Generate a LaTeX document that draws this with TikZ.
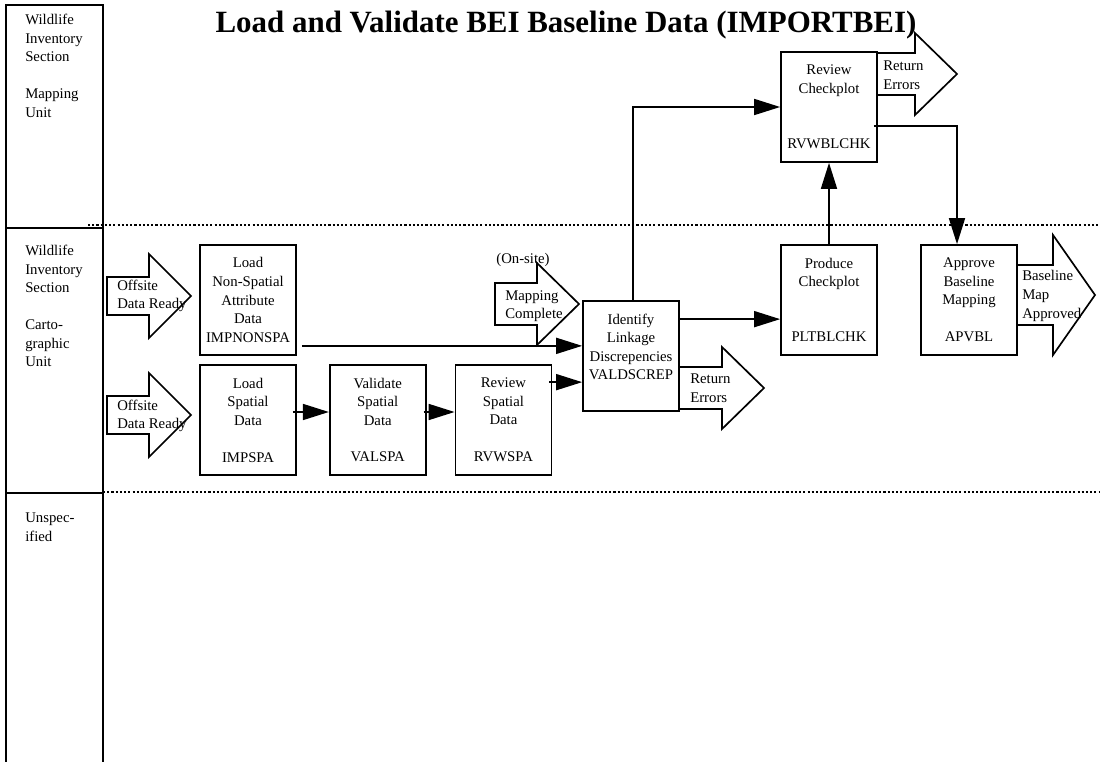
\documentclass[tikz,border=0pt]{standalone}
\usepackage{fontspec}
\setmainfont{Liberation Serif}
\usetikzlibrary{arrows.meta,positioning}
\newcommand{\blockarrow}[5]{%
  \draw[blockarrow] (#1,#2-#3) -- (#1+#5,#2-#3) -- (#1+#5,#2-#4) -- (#1+#5+42,#2)
    -- (#1+#5,#2+#4) -- (#1+#5,#2+#3) -- (#1,#2+#3) -- cycle;}

\begin{document}
\begin{tikzpicture}[x=0.025cm,y=-0.025cm,
    every node/.style={font=\fontsize{10.5}{13.2}\selectfont},
    task/.style={draw,line width=1.2pt,fill=white,minimum width=2.4cm,minimum height=2.75cm,align=center,inner sep=1pt},
    flow/.style={line width=1.2pt,-{Triangle[length=0.65cm,width=0.4cm]}},
    blockarrow/.style={draw,line width=1.2pt,fill=white,line join=miter},
    swim/.style={line width=1.2pt},
    lanesep/.style={line width=0.8pt,dash pattern=on 1.5pt off 1.5pt},
    lanetext/.style={align=left,anchor=west,inner sep=0pt},
    arrowtext/.style={align=left,anchor=west,inner sep=0pt}]
  \useasboundingbox (0,0) rectangle (1100,762);

  \draw[swim] (6,762) -- (6,5) -- (103,5) -- (103,762);
  \draw[swim] (6,228) -- (103,228);
  \draw[swim] (6,493) -- (103,493);
  \draw[lanesep] (88,225) -- (1100,225);
  \draw[lanesep] (103,492) -- (1100,492);

  \node[lanetext] (mapunit) at (25,66) {Wildlife\\Inventory\\Section\\[13pt]Mapping\\Unit};
  \node[lanetext] (cartounit) at (25,306) {Wildlife\\Inventory\\Section\\[13pt]Carto-\\graphic\\Unit};
  \node[lanetext] (unspec) at (25,527) {Unspec-\\ified};

  \node[font=\bfseries\fontsize{22}{26}\selectfont] (title) at (566,25) {Load and Validate BEI Baseline Data (IMPORTBEI)};

  \blockarrow{107}{296}{19}{42}{42}
  \blockarrow{107}{415}{19}{42}{42}
  \blockarrow{495}{304}{21}{41}{42}
  \blockarrow{679}{388}{21}{41}{43}
  \blockarrow{877}{74}{21}{41}{38}
  \blockarrow{1016}{295}{30}{60}{37}

  \node[task] (impnonspa) at (248,300) {Load\\Non-Spatial\\Attribute\\Data\\IMPNONSPA};
  \node[task] (impspa) at (248,420) {Load\\Spatial\\Data\\[13pt]IMPSPA};
  \node[task,right=0.8cm of impspa] (valspa) {Validate\\Spatial\\Data\\[13pt]VALSPA};
  \node[task,right=0.7cm of valspa] (rvwspa) {Review\\Spatial\\Data\\[13pt]RVWSPA};
  \node[task] (valdscrep) at (631,356) {Identify\\Linkage\\Discrepencies\\VALDSCREP\\~};
  \node[task] (pltblchk) at (829,300) {Produce\\Checkplot\\[26pt]PLTBLCHK};
  \node[task] (apvbl) at (969,300) {Approve\\Baseline\\Mapping\\[13pt]APVBL};
  \node[task] (rvwblchk) at (829,107) {Review\\Checkplot\\[26pt]RVWBLCHK};

  \node[arrowtext] (offsite1) at (117,296) {Offsite\\Data Ready};
  \node[arrowtext] (offsite2) at (117,416) {Offsite\\Data Ready};
  \node[arrowtext] (mapdone) at (505,306) {Mapping\\Complete};
  \node (onsite) at (523,260) {(On-site)};
  \node[arrowtext] (errors1) at (690,388) {Return\\Errors};
  \node[arrowtext] (errors2) at (883,75) {Return\\Errors};
  \node[arrowtext] (mapok) at (1022,296) {Baseline\\Map\\Approved};

  \coordinate (nonspaout) at ([shift={(5,-10)}]impnonspa.south east);
  \coordinate (spaout) at ([shift={(-3,18)}]rvwspa.north east);
  \coordinate (linkout) at ([shift={(0,19)}]valdscrep.north east);
  \draw[flow] (nonspaout) -- (nonspaout -| valdscrep.west);
  \draw[flow] ([shift={(-4,-8)}]impspa.east) -- ([shift={(0,-8)}]valspa.west);
  \draw[flow] ([shift={(-3,-8)}]valspa.east) -- ([shift={(0,-8)}]rvwspa.west);
  \draw[flow] (spaout) -- (spaout -| valdscrep.west);
  \draw[flow] (linkout) -- (linkout -| pltblchk.west);
  \draw[flow] ([shift={(2,0)}]valdscrep.north) |- (rvwblchk.west);
  \draw[flow] (pltblchk.north) -- (rvwblchk.south);
  \draw[flow] ([shift={(-4,19)}]rvwblchk.east) -| ([shift={(-12,0)}]apvbl.north);
\end{tikzpicture}
\end{document}
